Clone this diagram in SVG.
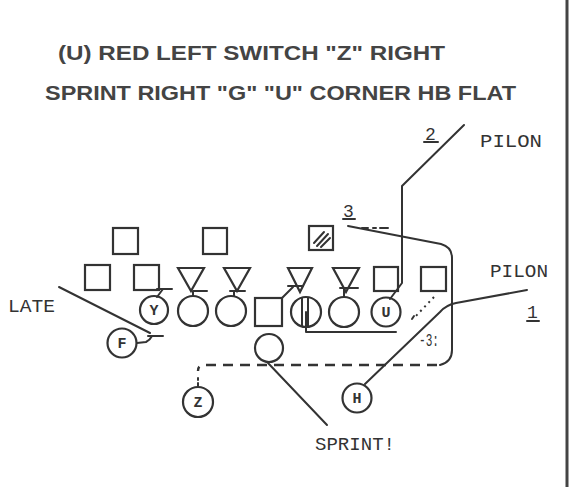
<svg xmlns="http://www.w3.org/2000/svg" width="570" height="487" viewBox="0 0 570 487">
<style>
.s{fill:none;stroke:#333;stroke-width:2.2}
.t{fill:none;stroke:#333;stroke-width:2;stroke-linecap:round;stroke-linejoin:round}
.d{fill:none;stroke:#333;stroke-width:2.4;stroke-dasharray:10 7}
.dot{fill:none;stroke:#333;stroke-width:2;stroke-dasharray:2 4}
.title{font-family:"Liberation Sans","DejaVu Sans",sans-serif;font-weight:bold;font-size:21px;fill:#444}
.lab{font-family:"Liberation Mono","DejaVu Sans Mono",monospace;font-size:18px;fill:#333}
.in{font-family:"Liberation Mono","DejaVu Sans Mono",monospace;font-weight:bold;font-size:15px;fill:#333;text-anchor:middle}
</style>
<rect width="570" height="487" fill="#fff"/>
<line x1="567" y1="0" x2="567" y2="487" stroke="#444" stroke-width="3"/>

<g id="title">
<text class="title" x="58" y="60" textLength="387" lengthAdjust="spacingAndGlyphs">(U) RED LEFT SWITCH "Z" RIGHT</text>
<text class="title" x="45" y="100" textLength="471" lengthAdjust="spacingAndGlyphs">SPRINT RIGHT "G" "U" CORNER HB FLAT</text>
</g>

<g id="connectors">
<polyline class="t" points="390,299 402,283 402,186 464,125"/>
<path class="t" d="M348,226 L441,244 Q452,247 452,258 L452,350 Q452,362 440,365"/>
<path class="t" d="M362,228 L368,228 M373,228 L376,228 M380,228 L388,228"/>
<path class="d" d="M437,365 L204,365 Q198,365 198,371"/>
<path class="t" d="M198,378 L198,380 M198,383 L198,386"/>
<path class="t" d="M365,384 L440,312 Q446,305 456,303 L527,290"/>
<path class="dot" d="M434,297 L414,318"/>
<line class="t" x1="414" y1="316" x2="412" y2="319" stroke-width="3"/>
<polyline class="t" points="306,312 306,332 396,332"/>
<line class="t" x1="268" y1="363" x2="327" y2="425"/>
<line class="t" x1="59" y1="287" x2="150" y2="333"/>
<path class="t" d="M137,343 L146,342 Q150,340 152,336 M148,336 L163,336"/>
<path class="t" d="M157,297 L163,289 M157,289 L172,289"/>
<path class="t" d="M193,296 L193,291 M193,291 L207,291"/>
<path class="t" d="M234,296 L234,291 M230,291 L245,291"/>
<path class="t" d="M282,298 L293,287 M288,286 L303,286"/>
<path class="t" d="M344,297 L344,288 M340,288 L358,288"/>
</g>

<g id="lb1"><rect class="s" x="113" y="228" width="25" height="26"/></g>
<g id="lb2"><rect class="s" x="203" y="228" width="24" height="26"/></g>
<g id="lb3">
<rect class="s" x="309" y="226" width="24" height="24"/>
<path class="t" d="M314,243 L324,232 M317,246 L328,234 M321,247 L330,238" stroke-width="1.8"/>
</g>
<g id="de1"><rect class="s" x="85" y="265" width="25" height="25"/></g>
<g id="de2"><rect class="s" x="134" y="265" width="25" height="25"/></g>
<g id="dt1"><polygon class="s" points="178,268 204,268 191,291"/></g>
<g id="dt2"><polygon class="s" points="224,268 250,268 237,291"/></g>
<g id="dt3"><polygon class="s" points="288,268 312,268 300,292"/></g>
<g id="dt4"><polygon class="s" points="333,268 359,268 346,292"/></g>
<g id="de3"><rect class="s" x="374" y="267" width="24" height="24"/></g>
<g id="de4"><rect class="s" x="421" y="267" width="25" height="24"/></g>

<g id="y"><circle class="s" cx="154" cy="310" r="14"/><text class="in" x="154" y="315">Y</text></g>
<g id="lg"><circle class="s" cx="193" cy="311" r="15"/></g>
<g id="lt"><circle class="s" cx="231" cy="311" r="15"/></g>
<g id="c"><rect class="s" x="255" y="298" width="27" height="28"/></g>
<g id="rg"><circle class="s" cx="306" cy="312" r="15"/><line class="t" x1="302" y1="298" x2="302" y2="326"/><line class="t" x1="308" y1="298" x2="308" y2="326"/></g>
<g id="rt"><circle class="s" cx="344" cy="312" r="15"/></g>
<g id="u"><circle class="s" cx="386" cy="312" r="14.5"/><text class="in" x="386" y="317">U</text></g>
<g id="f"><circle class="s" cx="122" cy="343" r="14.5"/><text class="in" x="122" y="348">F</text></g>
<g id="qb"><circle class="s" cx="269" cy="348" r="14"/></g>
<g id="z"><circle class="s" cx="198" cy="402" r="15"/><text class="in" x="198" y="407">Z</text></g>
<g id="h"><circle class="s" cx="357" cy="398" r="14.5"/><text class="in" x="357" y="403">H</text></g>

<g id="labels">
<text class="lab" x="8" y="312" textLength="47" lengthAdjust="spacingAndGlyphs">LATE</text>
<text class="lab" x="480" y="147" textLength="62" lengthAdjust="spacingAndGlyphs">PILON</text>
<text class="lab" x="490" y="277" textLength="58" lengthAdjust="spacingAndGlyphs">PILON</text>
<text class="lab" x="315" y="450" textLength="80" lengthAdjust="spacingAndGlyphs">SPRINT!</text>
<text class="lab" x="425" y="140">2</text><line class="t" x1="424" y1="142" x2="438" y2="142"/>
<text class="lab" x="343" y="217">3</text><line class="t" x1="343" y1="219" x2="355" y2="219"/>
<text class="lab" x="527" y="318">1</text><line class="t" x1="527" y1="321" x2="539" y2="321"/>
<text class="lab" x="419" y="346" textLength="20" lengthAdjust="spacingAndGlyphs" font-size="16">-3:</text>
</g>
</svg>
